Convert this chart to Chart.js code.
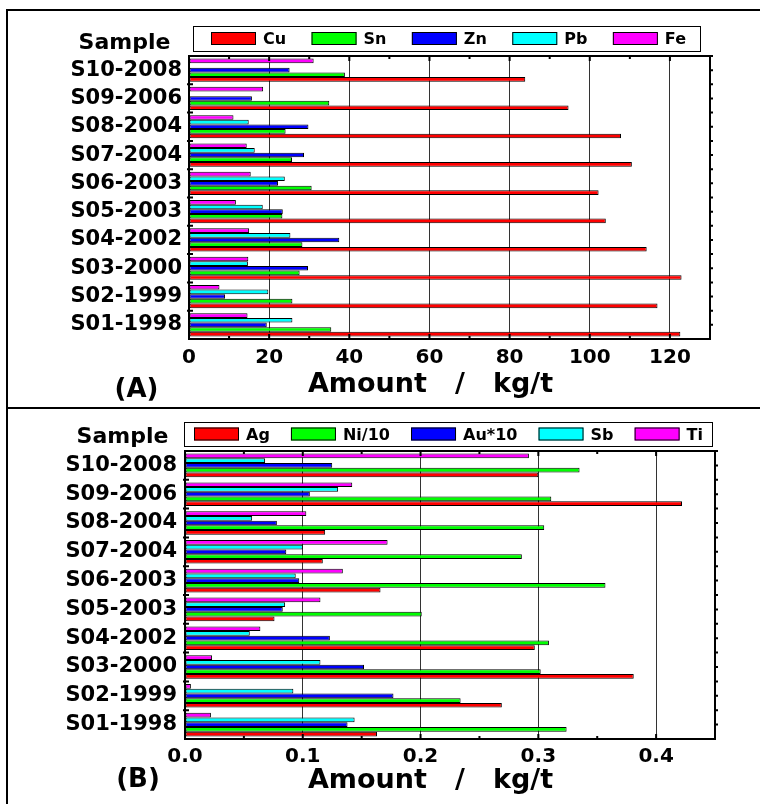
<!DOCTYPE html>
<html>
<head>
<meta charset="utf-8">
<script src="https://cdn.jsdelivr.net/npm/chart.js@4.4.1/dist/chart.umd.min.js"></script>
<style>
  body { margin: 0; background: #fff; }
  #wrap { position: relative; width: 760px; height: 804px; overflow: hidden; }
  canvas { position: absolute; left: 0; }
  .rule { position: absolute; background: #000; z-index: 2; }
</style>
</head>
<body>
<div id="wrap">
  <canvas id="chartA" width="760" height="408" style="top:0"></canvas>
  <canvas id="chartB" width="760" height="396" style="top:408px"></canvas>
  <div class="rule" style="left:6px;top:9px;width:2px;height:795px"></div>
  <div class="rule" style="left:6px;top:9px;width:754px;height:2px"></div>
  <div class="rule" style="left:6px;top:407px;width:754px;height:2px"></div>
</div>
<script>
// samples, listed top to bottom as in the figure
const samples = ["S10-2008", "S09-2006", "S08-2004", "S07-2004", "S06-2003",
  "S05-2003", "S04-2002", "S03-2000", "S02-1999", "S01-1998"];

// (A) kg/t
const cu = [83.9, 94.7, 107.8, 110.5, 102.2, 104.0, 114.2, 122.9, 116.9, 122.6];
const sn = [38.9, 35.0, 24.1, 25.7, 30.6, 23.3, 28.3, 27.6, 25.8, 35.5];
const zn = [25.1, 15.7, 29.8, 28.7, 22.2, 23.4, 37.5, 29.7, 9.0, 19.4];
const pb = [null, null, 14.9, 16.4, 23.9, 18.4, 25.3, 14.7, 19.8, 25.8];
const fe = [31.1, 18.5, 11.1, 14.4, 15.4, 11.7, 15.0, 14.8, 7.6, 14.6];

// (B) kg/t
const ag = [0.300, 0.422, 0.119, 0.117, 0.166, 0.076, 0.297, 0.381, 0.269, 0.163];
const ni10 = [0.335, 0.311, 0.305, 0.286, 0.357, 0.201, 0.309, 0.302, 0.234, 0.324];
const au10 = [0.125, 0.106, 0.078, 0.086, 0.097, 0.083, 0.123, 0.152, 0.177, 0.138];
const sb = [0.068, 0.130, 0.057, 0.100, 0.094, 0.085, 0.055, 0.115, 0.092, 0.144];
const ti = [0.292, 0.142, 0.103, 0.172, 0.134, 0.115, 0.064, 0.023, 0.005, 0.022];

const ticksA = [0, 20, 40, 60, 80, 100, 120];
const ticksB = ["0.0", "0.1", "0.2", "0.3", "0.4"];

const RED = "#ff0000", GREEN = "#00ff00", BLUE = "#0000ff", CYAN = "#00ffff", MAGENTA = "#ff00ff";
const FONT = "DejaVu Sans";

Chart.defaults.font.family = FONT;
Chart.defaults.font.weight = "bold";
Chart.defaults.color = "#000";

function ds(label, data, color) {
  return {
    label: label, data: data, backgroundColor: color,
    borderColor: "#000", borderWidth: 1, borderSkipped: false,
    categoryPercentage: 0.82, barPercentage: 1.0
  };
}

// frame, inner ticks, boxed legend and the free texts
const decor = {
  id: "decor",
  afterDraw(chart, args, o) {
    const ctx = chart.ctx, a = chart.chartArea;
    const xs = chart.scales.x, ys = chart.scales.y;
    ctx.save();
    ctx.strokeStyle = "#000";
    ctx.lineWidth = 2;
    ctx.beginPath();
    xs.ticks.forEach(t => {
      const px = xs.getPixelForValue(t.value);
      const len = o.isMajor(t.value) ? 5 : 3;
      ctx.moveTo(px, a.bottom); ctx.lineTo(px, a.bottom - len);
      ctx.moveTo(px, a.top); ctx.lineTo(px, a.top + len);
    });
    const step = (a.bottom - a.top) / samples.length;
    for (let i = 1; i < samples.length; i++) {
      const py = a.top + i * step;
      ctx.moveTo(a.left - 2, py); ctx.lineTo(a.left + 4, py);
    }
    for (let i = 0; i < samples.length * 2; i++) {
      const py = a.top + i * step / 2;
      ctx.moveTo(a.right, py); ctx.lineTo(a.right + 3, py);
    }
    ctx.stroke();
    ctx.strokeRect(a.left, a.top, a.right - a.left, a.bottom - a.top);

    // legend
    const lb = o.legendBox;
    ctx.lineWidth = 1;
    ctx.strokeStyle = "#000";
    ctx.strokeRect(lb.x + 0.5, lb.y + 0.5, lb.w, lb.h);
    ctx.font = "bold 16px '" + FONT + "'";
    const items = chart.data.datasets.slice().reverse();
    const sw = 45, sh = 13, gapText = 7;
    const widths = items.map(d => sw + gapText + ctx.measureText(d.label).width);
    const total = widths.reduce((s, w) => s + w, 0);
    const gap = (lb.w - o.padL - o.padR - total) / (items.length - 1);
    const cy = lb.y + lb.h / 2;
    let x = lb.x + o.padL;
    ctx.textAlign = "left";
    ctx.textBaseline = "alphabetic";
    items.forEach((d, i) => {
      ctx.fillStyle = d.backgroundColor;
      ctx.fillRect(x, cy - sh / 2, sw, sh);
      ctx.strokeRect(x + 0.5, cy - sh / 2 + 0.5, sw - 1, sh - 1);
      ctx.fillStyle = "#000";
      ctx.fillText(d.label, x + sw + gapText, cy + 0.729 * 16 / 2);
      x += widths[i] + gap;
    });

    // free texts
    ctx.fillStyle = "#000";
    ctx.textAlign = "center";
    ctx.font = "bold 22px '" + FONT + "'";
    ctx.fillText("Sample", o.sample.x, o.sample.y);
    ctx.font = "bold 26px '" + FONT + "'";
    ctx.fillText(o.tag.text, o.tag.x, o.tag.y);
    ctx.font = "bold 27px '" + FONT + "'";
    ctx.fillText("Amount   /   kg/t", o.title.x, o.title.y);
    ctx.restore();
  }
};

function makeChart(id, datasets, xopts, layout, decorOpts) {
  return new Chart(document.getElementById(id), {
    type: "bar",
    data: { labels: samples, datasets: datasets },
    options: {
      indexAxis: "y",
      responsive: false,
      animation: false,
      layout: { padding: layout.padding },
      plugins: { legend: { display: false }, tooltip: { enabled: false }, decor: decorOpts },
      scales: {
        x: {
          min: xopts.min, max: xopts.max,
          afterFit(s) { s.height = layout.xHeight; },
          border: { display: false },
          grid: {
            drawTicks: false,
            color: c => (c.tick && decorOpts.isMajor(c.tick.value) && c.tick.value > 0) ? "#333" : "rgba(0,0,0,0)",
            lineWidth: 1
          },
          ticks: {
            stepSize: xopts.step, autoSkip: false, maxRotation: 0,
            padding: layout.xPad,
            font: { size: 20, weight: "bold" },
            callback: xopts.label
          }
        },
        y: {
          afterFit(s) { s.width = layout.yWidth; },
          border: { display: false },
          grid: { display: false, drawTicks: false },
          ticks: { padding: layout.yPad, font: { size: 21, weight: "bold" } }
        }
      }
    },
    plugins: [decor]
  });
}

// (A)
makeChart("chartA",
  [ds("Fe", fe, MAGENTA), ds("Pb", pb, CYAN), ds("Zn", zn, BLUE), ds("Sn", sn, GREEN), ds("Cu", cu, RED)],
  {
    min: 0, max: 130, step: 10,
    label: v => ticksA.includes(v) ? String(v) : ""
  },
  { padding: { left: 0, right: 50, top: 56, bottom: 0 }, xHeight: 69, yWidth: 189, xPad: 7, yPad: 7 },
  {
    isMajor: v => Math.round(v) % 20 === 0,
    legendBox: { x: 193, y: 26, w: 507, h: 25 }, padL: 18, padR: 14,
    sample: { x: 124.5, y: 49 },
    tag: { text: "(A)", x: 136.5, y: 396.5 },
    title: { x: 430.5, y: 391.5 }
  });

// (B)
makeChart("chartB",
  [ds("Ti", ti, MAGENTA), ds("Sb", sb, CYAN), ds("Au*10", au10, BLUE), ds("Ni/10", ni10, GREEN), ds("Ag", ag, RED)],
  {
    min: 0, max: 0.45, step: 0.05,
    label: v => {
      const s = (Math.round(v * 10) / 10).toFixed(1);
      return Math.round(v * 100) % 10 === 0 && ticksB.includes(s) ? s : "";
    }
  },
  { padding: { left: 0, right: 45, top: 43, bottom: 0 }, xHeight: 65, yWidth: 185, xPad: 6, yPad: 8 },
  {
    isMajor: v => Math.round(v * 100) % 10 === 0,
    legendBox: { x: 184, y: 14, w: 528, h: 24 }, padL: 10, padR: 9,
    sample: { x: 122.5, y: 35 },
    tag: { text: "(B)", x: 138, y: 379 },
    title: { x: 430.5, y: 380 }
  });
</script>
</body>
</html>
